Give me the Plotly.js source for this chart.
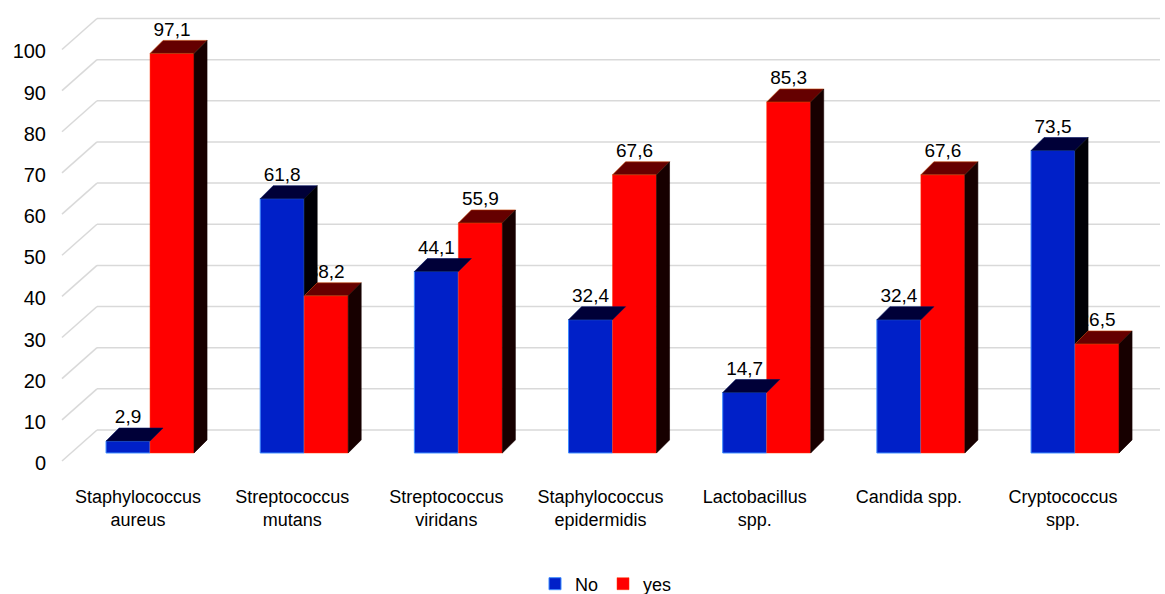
<!DOCTYPE html>
<html>
<head>
<meta charset="utf-8">
<script src="https://cdn.plot.ly/plotly-3.0.1.min.js"></script>
<style>
html,body{margin:0;padding:0;background:#fff;}
#chart{width:1165px;height:594px;}
</style>
</head>
<body>
<div id="chart"></div>
<script>
// ---- data ----
var categories = ["Staphylococcus<br>aureus", "Streptococcus<br>mutans", "Streptococcus<br>viridans",
                  "Staphylococcus<br>epidermidis", "Lactobacillus<br>spp.", "Candida spp.", "Cryptococcus<br>spp."];
var seriesNames = ["No", "yes"];
var noValues  = [2.9, 61.8, 44.1, 32.4, 14.7, 32.4, 73.5];
var yesValues = [97.1, 38.2, 55.9, 67.6, 85.3, 67.6, 26.5];
var yTicks = [0, 10, 20, 30, 40, 50, 60, 70, 80, 90, 100];

// ---- geometry helpers (pixel → data conversions) ----
var W = 1165, H = 594;
var M = {l: 60, r: 5, t: 10, b: 119};
var xRange = [-0.584, 6.551];
var yRange = [-5.35, 107.65];
var plotW = W - M.l - M.r, plotH = H - M.t - M.b;
var pxX = plotW / (xRange[1] - xRange[0]);
var pxY = plotH / (yRange[1] - yRange[0]);
var BW = 44 / pxX;          // bar front width
var DX = 13 / pxX;          // depth offset x
var DY = 13 / pxY;          // depth offset y
var idx = categories.map(function (_, i) { return i; });

function fmt(v) { return v.toFixed(1).replace('.', ','); }

var FONT = 'Liberation Sans, Arial, sans-serif';
var blueFront = '#0020C8', blueTop = '#000038', blueSide = '#000006';
var redFront = '#FF0000', redTop = '#650000', redSide = '#170000';

// front faces as bars
var barNo = {
  type: 'bar', name: seriesNames[0], x: idx, y: noValues,
  width: BW, offset: -BW,
  marker: {color: blueFront, line: {color: '#3D8BFF', width: 1}},
  hoverinfo: 'y'
};
var barYes = {
  type: 'bar', name: seriesNames[1], x: idx, y: yesValues,
  width: BW, offset: 0,
  marker: {color: redFront, line: {color: '#FF3300', width: 0.5}},
  hoverinfo: 'y'
};

// labels (drawn first so faces can hide them, like the original)
var lblX = [], lblY = [], lblT = [];
idx.forEach(function (i) {
  lblX.push(i - BW / 2); lblY.push(noValues[i] + DY); lblT.push(fmt(noValues[i]));
  lblX.push(i + BW / 2); lblY.push(yesValues[i] + DY); lblT.push(fmt(yesValues[i]));
});
var labels = {
  type: 'scatter', mode: 'text', x: lblX, y: lblY, text: lblT,
  textposition: 'top center', showlegend: false, hoverinfo: 'skip',
  textfont: {family: FONT, size: 19, color: '#000'}
};

function poly(arrX, arrY, pts) {
  pts.forEach(function (p) { arrX.push(p[0]); arrY.push(p[1]); });
  arrX.push(pts[0][0]); arrY.push(pts[0][1]);
  arrX.push(null); arrY.push(null);
}
var bTx = [], bTy = [], bSx = [], bSy = [], rTx = [], rTy = [], rSx = [], rSy = [];
idx.forEach(function (i) {
  var bl = i - BW, br = i, rl = i, rr = i + BW;
  var b = noValues[i], r = yesValues[i];
  poly(bTx, bTy, [[bl, b], [br, b], [br + DX, b + DY], [bl + DX, b + DY]]);
  if (b > r) poly(bSx, bSy, [[br, r], [br, b], [br + DX, b + DY], [br + DX, r + DY]]);
  poly(rTx, rTy, [[rl, r], [rr, r], [rr + DX, r + DY], [rl + DX, r + DY]]);
  poly(rSx, rSy, [[rr, 0], [rr, r], [rr + DX, r + DY], [rr + DX, DY]]);
});
function face(x, y, col, lc) {
  return {type: 'scatter', mode: 'lines', x: x, y: y, fill: 'toself', fillcolor: col,
          line: {color: lc || col, width: 0.6}, showlegend: false, hoverinfo: 'skip'};
}
var traces = [barNo, barYes, labels,
  face(bTx, bTy, blueTop, '#001060'),
  face(bSx, bSy, blueSide),
  face(rTx, rTy, redTop, '#C04000'),
  face(rSx, rSy, redSide)];

// gridlines: back wall + left slanted wall
var xFront = xRange[0] + 2 / pxX, xBack = xRange[0] + 37 / pxX;
var frontOff = -8 / pxY, backOff = 23 / pxY;
var shapes = [];
yTicks.forEach(function (v) {
  shapes.push({type: 'line', layer: 'below', xref: 'x', yref: 'y',
    x0: xBack, x1: xRange[1], y0: v + backOff, y1: v + backOff,
    line: {color: '#D9D9D9', width: 1.5}});
  shapes.push({type: 'line', layer: 'below', xref: 'x', yref: 'y',
    x0: xFront, x1: xBack, y0: v + frontOff, y1: v + backOff,
    line: {color: '#D9D9D9', width: 1.5}});
});

var layout = {
  width: W, height: H, margin: M,
  paper_bgcolor: '#fff', plot_bgcolor: '#fff',
  barmode: 'overlay', showlegend: true,
  xaxis: {range: xRange, tickvals: idx, ticktext: categories, showgrid: false,
          zeroline: false, showline: false, ticks: '', ticklabelshift: -12, ticklabelstandoff: 9,
          automargin: false,
          tickfont: {family: FONT, size: 18, color: '#000'}},
  yaxis: {range: yRange, tickvals: yTicks, ticktext: yTicks.map(String), showgrid: false,
          zeroline: false, showline: false, ticks: '', ticklabelshift: 10, ticklabelstandoff: 13,
          automargin: false,
          tickfont: {family: FONT, size: 20, color: '#000'}},
  legend: {orientation: 'h', x: 606 / 1165, xref: 'container', xanchor: 'center',
           y: 1 - 584 / 594, yref: 'container', yanchor: 'middle',
           font: {family: FONT, size: 18, color: '#000'},
           traceorder: 'normal', itemwidth: 30},
  shapes: shapes
};

Plotly.newPlot('chart', traces, layout, {staticPlot: true, displayModeBar: false});
</script>
</body>
</html>
